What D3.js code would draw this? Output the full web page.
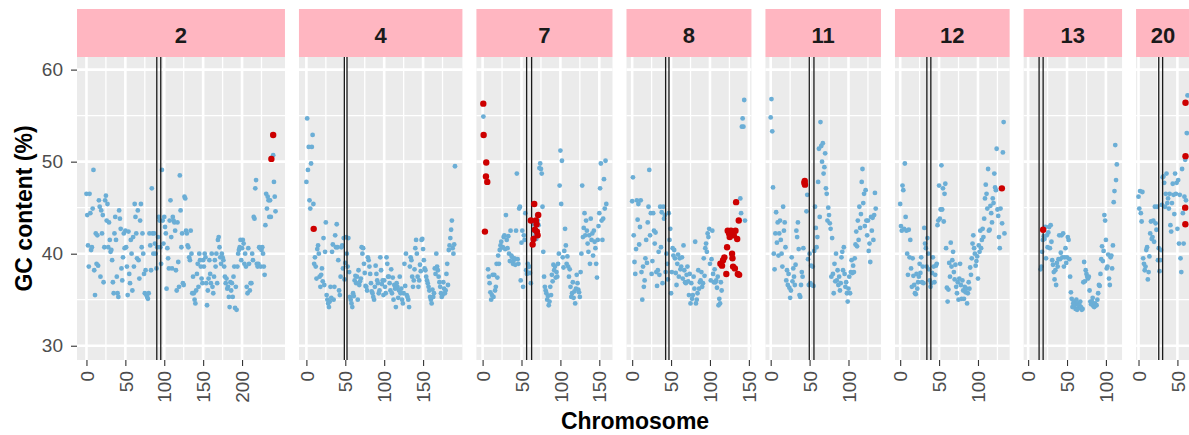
<!DOCTYPE html>
<html>
<head>
<meta charset="utf-8">
<script src="https://cdn.jsdelivr.net/npm/d3@7"></script>
<style>
body { margin: 0; background: #fff; overflow: hidden; }
svg { display: block; font-family: "Liberation Sans", Arial, sans-serif; }
</style>
</head>
<body>
<div id="chart"></div>
<script>

// chromosomes shown (facet order), their lengths in Mb and first 1-Mb bin with data
var chroms = ["2", "4", "7", "8", "11", "12", "13", "20"];
var chromLen = [243, 191, 159, 146, 135, 134, 115, 63];
var binStart = [0, 0, 0, 0, 0, 0, 16, 0];

// GC content (%) per 1 Mb bin (null = no point)
var gc2 = [46.5,44.2,40.9,38.6,46.5,44.4,40.4,40.7,44.9,49.1,38.2,35.5,
  42.2,38.9,42.0,38.7,45.8,45.1,37.5,44.7,42.2,44.2,36.9,40.7,45.8,
  46.3,43.6,45.4,40.7,43.4,41.5,40.2,40.4,39.3,36.9,35.7,42.2,
  44.0,41.5,37.5,35.7,35.3,44.7,43.8,42.7,38.4,37.1,39.6,42.2,40.6,
  42.5,40.7,38.6,35.5,42.4,37.8,36.8,41.5,40.0,36.0,41.8,38.6,
  45.4,44.0,42.2,39.5,44.7,39.3,37.3,43.6,45.4,40.7,42.2,40.0,37.8,
  35.7,38.2,35.5,35.3,35.1,35.7,42.2,40.9,38.2,47.1,42.2,40.0,
  42.2,41.1,40.0,38.4,40.7,41.8,44.0,43.6,40.7,38.9,49.1,43.6,41.1,
  44.0,42.9,42.2,36.2,40.6,39.5,38.4,43.6,45.8,41.8,38.4,44.0,
  43.6,43.4,42.5,38.2,36.0,43.4,39.1,36.4,48.5,44.7,40.7,42.2,36.8,
  36.6,46.2,46.0,42.5,42.2,40.9,40.7,39.6,39.3,42.5,40.0,35.7,
  37.5,35.7,35.0,34.6,36.0,37.8,38.9,36.4,40.0,39.3,38.6,37.3,36.8,
  39.3,38.6,40.0,39.6,36.8,34.4,36.0,37.3,39.3,37.8,36.8,40.0,
  36.4,35.7,37.5,39.3,38.6,40.0,36.8,41.5,41.8,40.7,39.6,38.9,40.0,
  39.6,39.3,38.6,37.5,36.8,37.3,36.2,36.4,35.3,34.2,36.9,36.0,
  36.8,35.3,37.5,38.6,34.1,36.4,33.9,38.6,40.0,40.4,40.7,41.5,39.3,
  40.6,41.5,41.1,38.9,40.0,38.6,36.4,35.7,40.6,38.9,36.0,36.8,
  36.8,40.0,39.3,44.0,43.8,47.1,48.0,38.9,38.6,38.9,40.7,40.6,38.6,
  40.4,40.7,40.0,38.6,37.7,43.1,46.5,44.9,46.2,45.8,44.0,45.8,
  44.0,50.4,52.9,50.7,47.8,46.2,44.6];

var gc4 = [47.8,54.7,49.1,51.6,45.8,44.9,49.8,51.6,52.9,45.4,
  38.9,39.6,38.6,37.3,40.5,40.9,40.0,37.5,36.4,37.7,38.4,37.0,41.7,36.6,40.2,
  43.4,35.5,35.0,34.6,34.2,34.8,36.4,35.2,40.2,41.0,35.0,36.4,42.0,40.7,43.2,
  40.7,39.3,36.0,35.5,37.5,40.7,40.9,38.4,41.7,37.2,39.0,41.8,40.0,38.6,41.7,
  38.0,35.3,35.0,34.6,34.2,35.7,35.4,37.1,37.6,36.8,37.5,35.0,38.2,36.6,37.0,
  37.3,40.7,40.0,40.6,38.9,37.9,36.5,36.4,36.0,39.6,39.3,38.6,37.8,36.8,35.9,
  35.7,35.3,35.0,36.4,38.7,37.8,37.1,36.8,35.7,36.0,39.6,38.2,36.7,37.1,35.5,
  37.1,36.4,35.7,39.6,38.9,37.5,37.5,36.8,36.0,38.3,35.7,37.4,35.0,36.6,36.2,
  34.2,36.8,36.4,35.2,36.0,37.5,35.7,36.2,35.0,34.6,35.7,38.9,36.5,40.0,35.5,
  35.3,35.0,34.2,38.6,39.6,39.3,37.5,36.4,37.1,38.3,40.6,41.5,40.0,37.5,36.4,
  37.1,38.8,38.1,41.5,41.6,40.5,39.3,38.4,38.2,37.5,37.1,36.8,36.4,36.0,35.3,
  35.0,34.6,36.1,35.3,35.7,38.4,37.8,40.0,38.6,38.2,37.5,36.9,36.4,35.7,35.3,
  35.5,36.9,36.2,35.7,36.0,37.8,38.9,36.6,40.4,40.9,41.7,42.6,43.6,40.6,40.0,41.0,49.5];

var gc7 = [null,54.9,null,null,null,null,null,
  38.3,37.5,36.8,35.8,35.0,35.5,37.7,35.3,37.7,36.0,36.4,38.9,37.4,
  39.8,38.9,40.4,40.9,41.3,40.7,40.7,41.8,42.0,40.5,44.2,41.5,40.6,41.9,40.0,
  39.2,42.5,39.8,39.6,38.9,39.3,39.5,38.8,42.5,48.7,39.4,38.9,44.9,45.1,37.1,
  41.2,42.5,36.4,42.0,41.5,44.4,38.2,37.8,38.9,38.6,38.6,37.9,36.8,43.6,41.0,
  45.4,43.2,42.4,42.0,41.6,44.2,43.6,43.1,49.3,49.8,49.2,48.7,45.1,40.2,37.5,
  36.4,36.0,35.7,35.0,35.4,34.4,34.8,36.4,35.5,37.7,37.0,38.8,38.2,38.6,37.4,
  38.0,37.5,38.9,40.0,47.4,51.2,45.4,50.1,39.6,38.5,40.3,42.7,40.9,38.9,39.7,
  38.6,37.5,38.3,36.4,35.3,35.7,36.9,35.2,35.9,34.6,36.2,37.7,36.8,36.1,35.8,
  35.3,38.0,40.0,47.4,41.8,42.8,44.4,42.0,43.6,42.5,41.1,40.2,42.0,38.9,43.8,
  41.5,42.2,39.8,42.5,41.3,40.6,38.9,37.4,41.5,43.0,44.4,47.1,49.8,43.6,41.5,43.8,48.1,44.9,50.1,45.4];

var gc8 = [45.7,48.3,42.0,39.1,37.8,40.5,45.8,43.7,45.4,41.0,
  42.9,45.8,38.0,35.0,38.6,36.4,37.1,39.5,41.5,39.0,
  43.4,45.1,49.1,42.0,44.4,37.8,39.2,44.4,42.5,41.1,
  42.3,38.0,36.5,38.2,40.2,37.7,45.1,40.7,44.5,36.8,
  45.1,43.8,44.2,38.0,40.0,38.9,37.2,44.4,41.5,42.7,
  35.7,38.0,40.6,39.8,40.4,39.5,37.9,36.6,38.9,39.9,
  37.5,39.5,38.3,38.6,39.6,37.3,40.9,38.2,36.9,36.8,
  37.7,38.6,37.0,35.5,37.8,34.6,36.8,35.1,35.5,37.5,
  36.2,41.3,34.6,35.0,35.7,38.2,36.2,36.9,37.1,38.0,
  36.4,36.8,39.5,37.6,40.6,41.1,40.2,42.2,41.8,42.7,
  38.9,37.1,39.4,42.5,37.8,36.9,38.3,36.9,37.1,36.3,
  37.5,34.4,35.1,34.6,36.9,36.0,null,null,null,null,
  null,null,null,null,null,null,null,null,null,null,
  null,null,null,null,null,null,null,null,null,46.0,
  44.4,53.8,54.7,53.8,56.7,43.6,null];

var gc11 = [54.8,56.8,53.3,47.2,40.0,38.3,42.2,44.5,41.2,43.4,
  39.8,42.2,43.6,41.5,40.0,38.6,45.1,42.5,43.4,40.7,
  37.1,38.2,36.6,37.8,36.3,35.2,36.0,39.6,37.0,38.4,
  37.5,36.6,38.8,42.5,41.8,43.4,40.5,35.5,35.3,36.6,
  38.0,37.5,40.6,47.7,47.5,null,44.6,46.4,39.4,36.6,
  40.0,36.8,38.7,36.6,38.6,36.5,40.3,45.1,42.8,40.7,
  41.8,47.8,51.4,44.0,54.3,51.7,50.0,52.0,48.7,49.4,
  50.9,47.1,46.5,43.6,45.0,44.2,43.3,42.7,37.5,41.7,
  37.8,35.7,38.9,37.0,40.0,37.1,38.2,36.6,37.5,36.0,
  36.8,39.6,40.2,38.2,40.7,37.8,36.4,36.9,35.7,34.8,
  36.2,37.5,35.7,38.0,39.3,37.9,38.7,38.0,39.5,41.0,
  42.4,40.8,43.6,41.5,45.1,42.8,44.3,47.8,49.2,45.5,
  46.5,43.0,46.9,43.6,42.0,43.6,40.3,41.1,39.1,44.0,
  42.5,43.9,41.5,44.2,46.6,44.9];

var gc12 = [45.4,43.0,42.5,47.4,46.9,42.7,49.8,44.0,42.5,40.0,
  37.7,42.6,39.6,41.5,38.4,36.4,39.5,37.6,36.6,35.7,
  35.6,37.8,36.2,36.9,37.5,38.9,37.9,39.6,36.9,38.6,
  36.8,42.8,41.1,40.6,38.6,41.7,40.0,38.3,37.1,36.4,
  36.8,37.9,39.6,38.6,36.9,37.7,38.7,38.9,43.1,43.6,
  47.4,43.8,44.8,49.6,44.8,47.1,43.5,46.5,47.6,40.6,
  36.3,34.8,36.1,39.0,37.5,41.2,38.6,39.3,40.2,38.0,
  37.2,38.8,36.4,35.7,36.9,35.0,37.3,38.9,36.6,35.1,
  37.1,36.0,35.1,36.4,35.8,36.2,34.6,35.7,36.9,36.2,
  38.5,37.7,39.5,41.1,42.0,40.6,40.0,38.7,39.2,39.7,
  37.3,40.9,40.2,42.5,40.6,41.5,42.7,41.8,43.8,46.0,
  47.5,46.5,44.9,49.2,42.5,42.6,45.2,44.4,43.4,46.0,
  45.5,48.7,47.2,46.9,51.4,44.8,44.1,41.8,40.6,44.9,
  47.1,43.3,51.0,54.3,42.2];

var gc13 = [38.3,38.6,40.2,41.5,41.9,41.6,42.9,39.5,42.0,40.7,
  42.3,42.9,40.6,43.1,41.3,39.3,38.8,38.0,37.2,38.2,
  36.6,39.0,38.6,39.4,42.0,39.4,40.1,42.0,39.6,42.2,
  38.6,39.6,40.6,39.0,39.6,41.8,41.5,39.4,37.5,35.8,
  35.1,34.2,34.6,34.8,34.4,34.0,35.0,33.9,34.6,34.1,
  34.4,34.8,34.2,33.9,34.0,36.9,39.1,37.0,38.2,37.8,
  37.5,37.3,37.5,36.0,34.8,34.5,34.8,35.2,34.3,34.2,
  34.6,34.4,34.4,35.0,35.7,36.6,36.5,37.8,39.4,40.8,
  39.2,40.3,44.2,43.6,41.5,38.4,38.6,39.9,37.3,36.6,
  39.6,39.8,38.4,40.9,45.6,46.8,51.8,48.0,49.7];

var gc20 = [46.2,44.9,46.8,44.4,43.5,46.7,39.5,38.9,38.2,38.6,
  40.4,40.7,37.2,38.0,39.7,42.2,43.5,41.6,41.8,43.6,
  41.3,45.1,43.3,42.6,45.1,39.3,40.6,38.1,39.3,40.4,
  45.3,48.3,48.4,47.7,45.1,46.5,48.7,45.5,46.0,44.9,
  46.5,43.1,42.4,45.5,47.6,46.4,44.3,48.7,46.5,47.7,
  42.7,48.0,41.1,46.4,39.5,38.0,49.2,44.4,41.1,46.2,
  50.2,45.8,53.1,57.2];

var gcValues = [gc2, gc4, gc7, gc8, gc11, gc12, gc13, gc20];

// highlighted windows [position Mb, GC %]
var flagged = [
  [[237.7, 50.3], [240, 52.9]],
  [[9.4, 42.7]],
  [[0.9, 56.3], [1.3, 52.9], [4.7, 49.9], [4.3, 48.4], [6, 47.8], [3, 42.4],
   [66.4, 45.4], [62, 43.6], [68.5, 43.6], [71.5, 44.2], [69.4, 43.2], [69.8, 42.4],
   [70.7, 42.0], [65.5, 41.6], [64.3, 41.0], [67.3, 42.6]],
  [[113.4, 38.9], [115.5, 38.7], [116.8, 39.3], [118.5, 39.6], [121, 37.8], [122, 40.7],
   [122.8, 42.5], [124.6, 42.2], [125.4, 41.8], [127, 42.5], [128.4, 40.0], [128.9, 39.5],
   [129.7, 38.6], [132, 38.4], [133.6, 45.6], [135, 41.6], [135.8, 37.8], [137, 43.6],
   [137.5, 37.7], [130.6, 42.0], [132.8, 42.5]],
  [[43.3, 47.7], [44.1, 47.5], [43.8, 47.9]],
  [[130.7, 47.1]],
  [[19.3, 42.6]],
  [[60.4, 56.4], [60.4, 50.6], [60, 45.0], [60.2, 43.2]]
];

// centromere start / end (Mb)
var centromeres = [[90.4, 95.5], [48.8, 52.2], [56.6, 63], [43, 47.3],
  [49.6, 55.6], [34.3, 39.4], [14.1, 19.3], [26, 31]];

var xTicks = [[0, 50, 100, 150, 200], [0, 50, 100, 150], [0, 50, 100, 150], [0, 50, 100, 150],
  [0, 50, 100], [0, 50, 100], [0, 50, 100], [0, 50]];
var yTicks = [30, 40, 50, 60];
var yMinor = [35, 45, 55];
var yLimits = [28.45, 61.37];

var width = 1189, height = 435;
var firstLeft = 77, gap = 14, pxPerMb = 0.778;
var panelTop = 57, panelBottom = 360, stripTop = 9;

var svg = d3.select("#chart").append("svg")
  .attr("width", width)
  .attr("height", height);

var y = d3.scaleLinear().domain(yLimits).range([panelBottom, panelTop]);

var left = firstLeft;
chroms.forEach(function(chr, i) {
  var len = chromLen[i], pad = len * 0.05;
  var w = (len + 2 * pad) * pxPerMb;
  var x = d3.scaleLinear().domain([-pad, len + pad]).range([0, w]);

  var g = svg.append("g").attr("transform", "translate(" + left + ",0)");

  g.append("rect")
    .attr("x", 0).attr("y", panelTop)
    .attr("width", w).attr("height", panelBottom - panelTop)
    .attr("fill", "#EBEBEB");

  // grid
  var minorX = d3.range(25, len + pad, 50);
  g.selectAll(".gx-minor").data(minorX).enter().append("line")
    .attr("x1", x).attr("x2", x)
    .attr("y1", panelTop).attr("y2", panelBottom)
    .attr("stroke", "#fff").attr("stroke-width", 1.3);
  g.selectAll(".gy-minor").data(yMinor).enter().append("line")
    .attr("x1", 0).attr("x2", w)
    .attr("y1", y).attr("y2", y)
    .attr("stroke", "#fff").attr("stroke-width", 1.3);
  g.selectAll(".gx").data(xTicks[i]).enter().append("line")
    .attr("x1", x).attr("x2", x)
    .attr("y1", panelTop).attr("y2", panelBottom)
    .attr("stroke", "#fff").attr("stroke-width", 2.6);
  g.selectAll(".gy").data(yTicks).enter().append("line")
    .attr("x1", 0).attr("x2", w)
    .attr("y1", y).attr("y2", y)
    .attr("stroke", "#fff").attr("stroke-width", 2.6);

  // points
  var pts = [];
  gcValues[i].forEach(function(v, j) {
    if (v != null) pts.push([binStart[i] + j, v]);
  });
  g.selectAll(".pt").data(pts).enter().append("circle")
    .attr("cx", function(d) { return x(d[0]); })
    .attr("cy", function(d) { return y(d[1]); })
    .attr("r", 2.4)
    .attr("fill", "#6BAED6");

  // centromere
  g.selectAll(".cen").data(centromeres[i]).enter().append("line")
    .attr("x1", x).attr("x2", x)
    .attr("y1", panelTop).attr("y2", panelBottom)
    .attr("stroke", "#1a1a1a").attr("stroke-width", 1.3);

  g.selectAll(".hit").data(flagged[i]).enter().append("circle")
    .attr("cx", function(d) { return x(d[0]); })
    .attr("cy", function(d) { return y(d[1]); })
    .attr("r", 3.2)
    .attr("fill", "#CD0000");

  // strip
  g.append("rect")
    .attr("x", 0).attr("y", stripTop)
    .attr("width", w).attr("height", panelTop - stripTop)
    .attr("fill", "#FFB6C1");
  g.append("text")
    .attr("x", w / 2).attr("y", 42.5)
    .attr("text-anchor", "middle")
    .attr("font-size", "22px").attr("font-weight", "bold")
    .attr("fill", "#1A1A1A")
    .text(chr);

  // x axis
  var ax = g.append("g")
    .attr("transform", "translate(0," + panelBottom + ")")
    .call(d3.axisBottom(x).tickValues(xTicks[i]).tickSize(6).tickSizeOuter(0));
  ax.select(".domain").remove();
  ax.selectAll(".tick line").attr("stroke", "#333").attr("stroke-width", 1.1);
  ax.selectAll(".tick text")
    .attr("transform", "rotate(-90)")
    .attr("text-anchor", "end")
    .attr("x", -11).attr("y", 0).attr("dy", "0.35em")
    .attr("font-size", "19px").attr("font-family", null)
    .attr("fill", "#4D4D4D");

  left += w + gap;
});

// y axis
var ay = svg.append("g")
  .attr("transform", "translate(" + firstLeft + ",0)")
  .call(d3.axisLeft(y).tickValues(yTicks).tickSize(6).tickPadding(8));
ay.select(".domain").remove();
ay.selectAll(".tick line").attr("stroke", "#333").attr("stroke-width", 1.1);
ay.selectAll(".tick text")
  .attr("font-size", "19px").attr("font-family", null)
  .attr("fill", "#4D4D4D");

svg.append("text")
  .attr("transform", "translate(31.5," + ((panelTop + panelBottom) / 2) + ") rotate(-90)")
  .attr("text-anchor", "middle")
  .attr("font-size", "23px").attr("font-weight", "bold")
  .text("GC content (%)");

svg.append("text")
  .attr("x", 635).attr("y", 429)
  .attr("text-anchor", "middle")
  .attr("font-size", "23px").attr("font-weight", "bold")
  .text("Chromosome");

</script>
</body>
</html>
